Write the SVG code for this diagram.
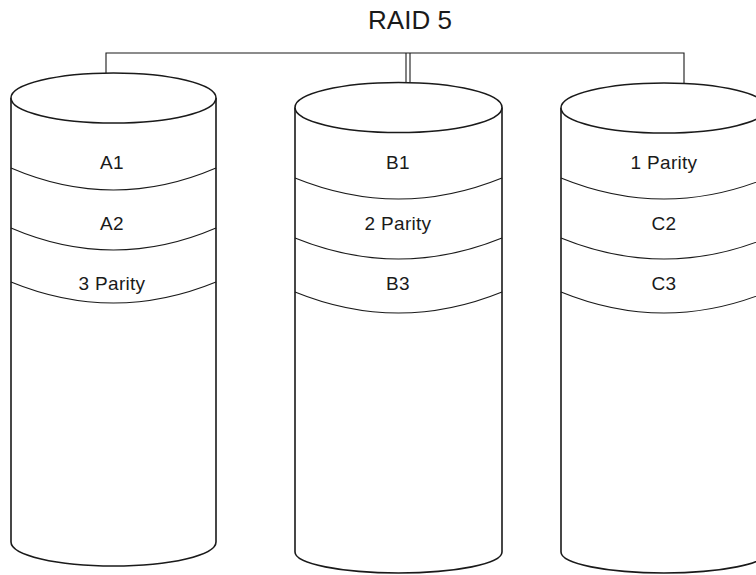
<svg xmlns="http://www.w3.org/2000/svg" width="756" height="575" viewBox="0 0 756 575">
<style>
.body{fill:#fff;stroke:#1a1a1a;stroke-width:1.6}
.band{fill:none;stroke:#1a1a1a;stroke-width:1.1}
.conn{fill:none;stroke:#1a1a1a;stroke-width:1.1}
text{font-family:"Liberation Sans",Arial,sans-serif;fill:#1a1a1a;text-anchor:middle}
.lbl{font-size:19px;letter-spacing:0.3px}
.title{font-size:26px}
</style>
<rect width="756" height="575" fill="#fff"/>
<text class="title" x="410" y="29">RAID 5</text>
<g id="connectors">
<path class="conn" d="M106,73 V53 H684 V83"/>
<path class="conn" d="M406,53 V82"/>
<path class="conn" d="M410,53 V82"/>
</g>
<g id="disk1">
<path class="body" d="M11,98 V542 A102.5,24 0 0 0 216,542 V98"/>
<ellipse class="body" cx="113.5" cy="98" rx="102.5" ry="25"/>
<path class="band" d="M11,168 Q113.5,212 216,168"/>
<path class="band" d="M11,228 Q113.5,272 216,228"/>
<path class="band" d="M11,282 Q113.5,324 216,282"/>
<text class="lbl" x="112" y="169">A1</text>
<text class="lbl" x="112" y="230">A2</text>
<text class="lbl" x="112" y="290">3 Parity</text>
</g>
<g id="disk2">
<path class="body" d="M295,107.5 V552 A103.5,21 0 0 0 502,552 V107.5"/>
<ellipse class="body" cx="398.5" cy="107.5" rx="103.5" ry="25"/>
<path class="band" d="M295,178 Q398.5,220 502,178"/>
<path class="band" d="M295,238 Q398.5,280 502,238"/>
<path class="band" d="M295,292 Q398.5,334 502,292"/>
<text class="lbl" x="398" y="169">B1</text>
<text class="lbl" x="398" y="230">2 Parity</text>
<text class="lbl" x="398" y="290">B3</text>
</g>
<g id="disk3">
<path class="body" d="M561,108 V552 A103,21 0 0 0 767,552 V108"/>
<ellipse class="body" cx="664" cy="108" rx="103" ry="25"/>
<path class="band" d="M561,178 Q664,220 767,178"/>
<path class="band" d="M561,238 Q664,280 767,238"/>
<path class="band" d="M561,292 Q664,334 767,292"/>
<text class="lbl" x="664" y="169">1 Parity</text>
<text class="lbl" x="664" y="230">C2</text>
<text class="lbl" x="664" y="290">C3</text>
</g>
</svg>
